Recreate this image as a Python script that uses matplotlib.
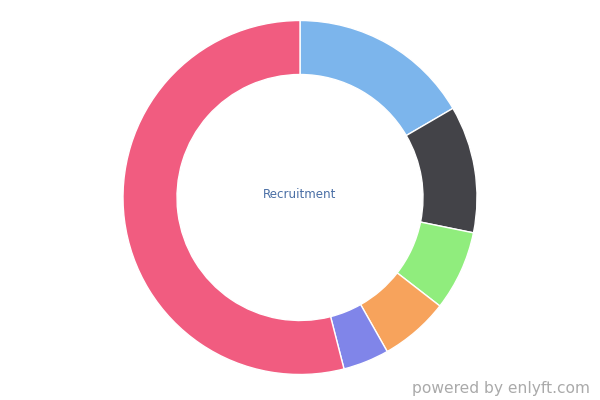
import matplotlib.pyplot as plt

# slice shares, clockwise from 12 o'clock
labels = ["A", "B", "C", "D", "E", "F"]
values = [16.6, 11.6, 7.3, 6.3, 4.2, 54.0]
colors = ["#7cb5ec", "#434348", "#90ed7d", "#f7a35c", "#8085e9", "#f15c80"]

fig = plt.figure(figsize=(6, 4), dpi=100)
ax = fig.add_axes([0, 0, 1, 1])

ax.pie(values, colors=colors, startangle=90, counterclock=False,
       center=(300, 202.5), radius=177,
       wedgeprops=dict(width=54, edgecolor="white", linewidth=1))

ax.set_xlim(0, 600)
ax.set_ylim(0, 400)
ax.set_aspect("equal")
ax.axis("off")

ax.text(300, 206, "Recruitment", ha="center", va="center",
        fontsize=8.6, color="#4a6fa5")
ax.text(590, 11, "powered by enlyft.com", ha="right", va="center",
        fontsize=11.2, color="#aaaaaa")

fig.savefig("out.png", dpi=100)
